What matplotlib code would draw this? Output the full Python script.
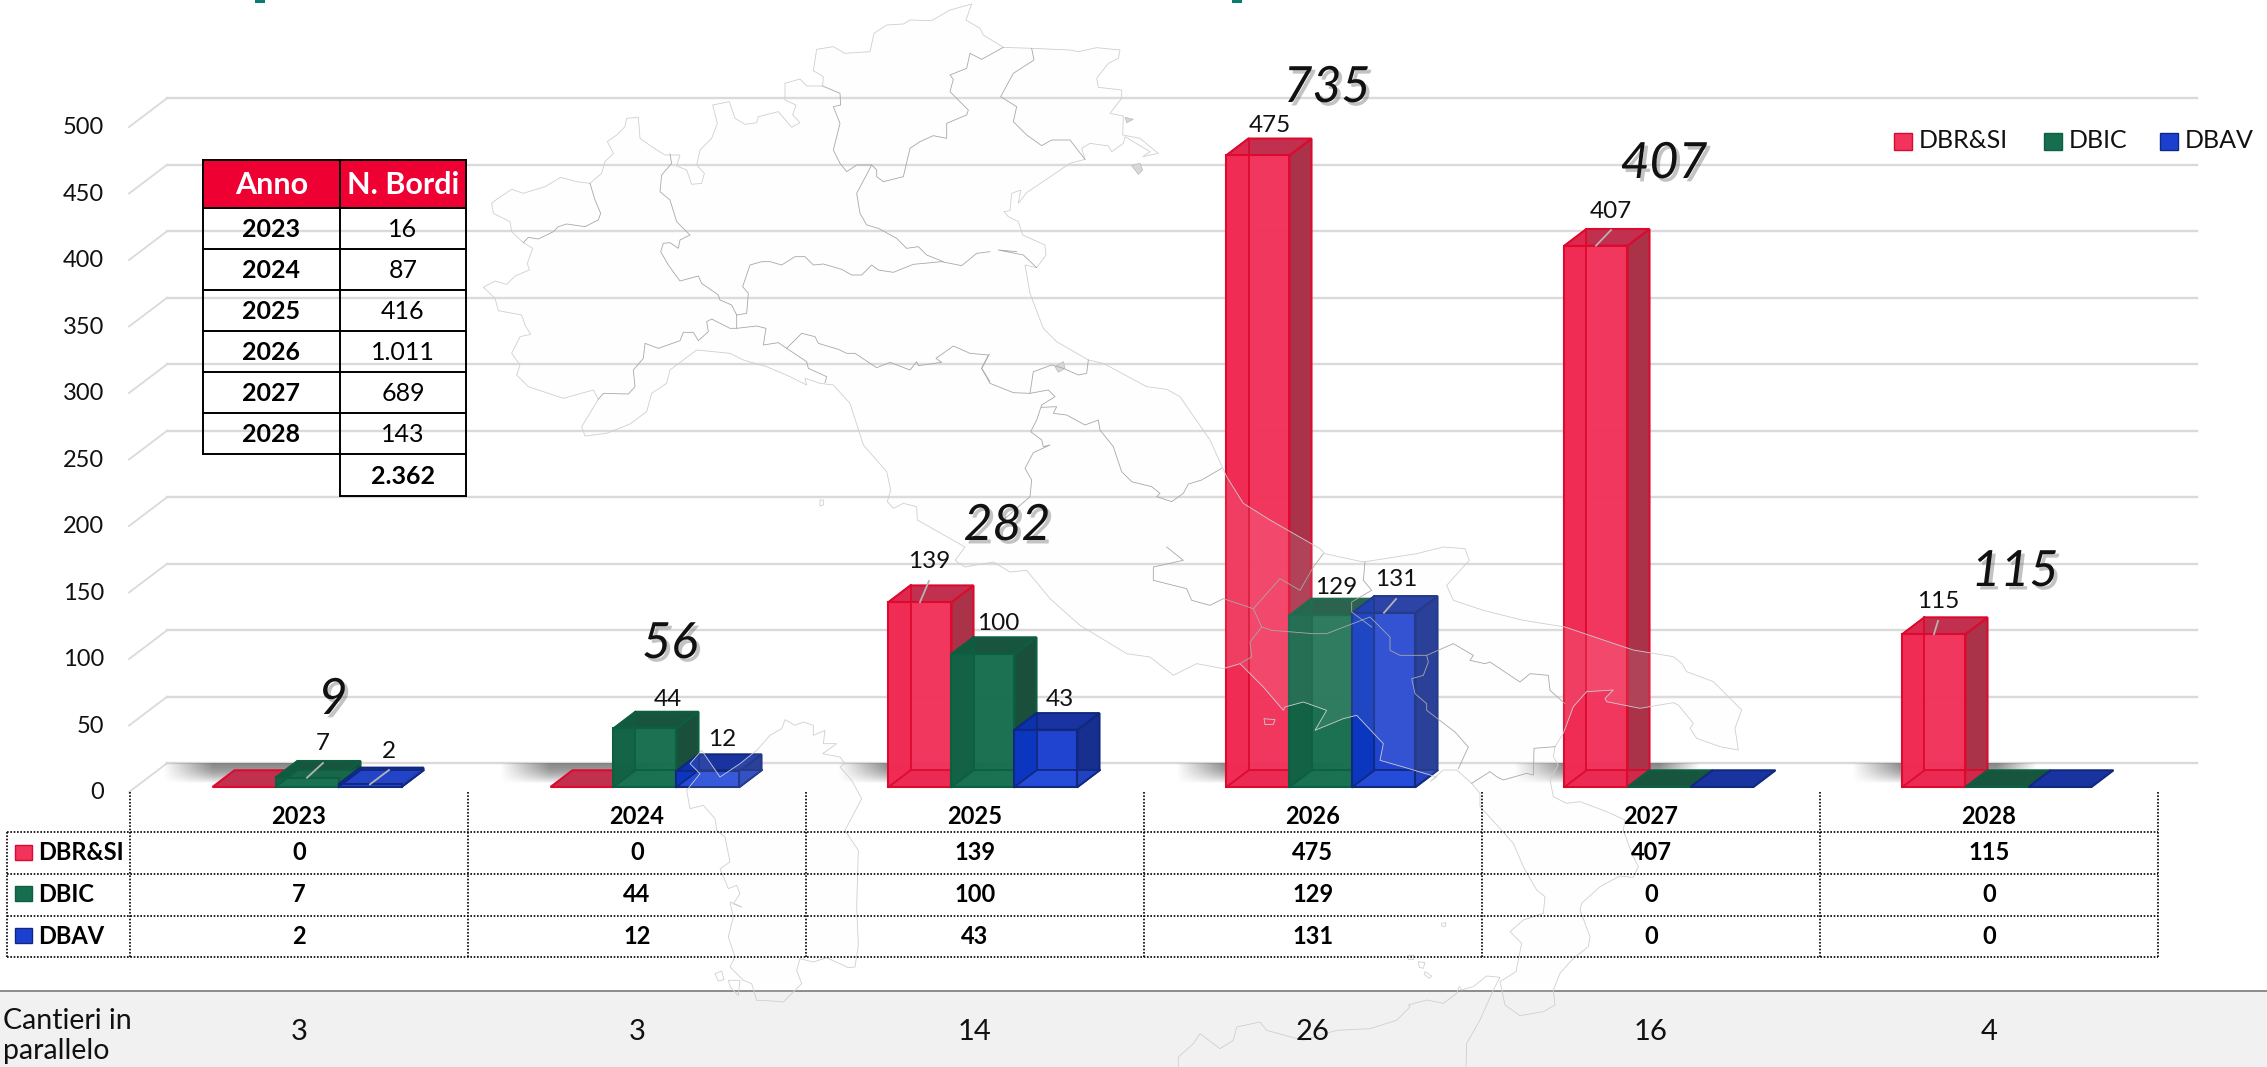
"""
Cantieri per anno: finto 3D a barre con tabella dati e sagoma dell'Italia sullo sfondo.
"""

import numpy as np
from matplotlib import pyplot as plt
from matplotlib import patheffects
from matplotlib.patches import Polygon, Rectangle

plt.rcParams['font.family'] = ['Lato', 'DejaVu Sans']

WIDTH, HEIGHT = 2267, 1067

# chart values
years = ['2023', '2024', '2025', '2026', '2027', '2028']
seriesNames = ['DBR&SI', 'DBIC', 'DBAV']
dbrsi = [0, 0, 139, 475, 407, 115]
dbic = [7, 44, 100, 129, 0, 0]
dbav = [2, 12, 43, 131, 0, 0]
totals = [9, 56, 282, 735, 407, 115]
cantieri = [3, 3, 14, 26, 16, 4]
yTicks = [0, 50, 100, 150, 200, 250, 300, 350, 400, 450, 500]

# small table on the left
tableYears = ['2023', '2024', '2025', '2026', '2027', '2028']
tableBordi = ['16', '87', '416', '1.011', '689', '143']
tableTotal = '2.362'

# bar styling, one entry per series
faceColors = ['#F2335C', '#176E4F', '#1B40CF']
edgeColors = ['#DC0A2E', '#0C5F40', '#10297F']
sideColors = ['#AA3249', '#1A4F3C', '#172F8F']
topColors = ['#C2304F', '#18553F', '#1933A0']
wallColors = ['#F0254F', '#0F5C3F', '#0230B8']
floorColors = ['#E8234E', '#1A7452', '#2A50E0']

# where the labels sit in the picture (x, y in pixels), per series and year
labelPositions = {
    (1, 0): (323, 744), (2, 0): (389, 751),
    (1, 1): (668, 700), (2, 1): (722, 740),
    (0, 2): (929, 562), (1, 2): (998, 623), (2, 2): (1060, 699),
    (0, 3): (1270, 125), (1, 3): (1336, 587), (2, 3): (1396, 580),
    (0, 4): (1611, 211),
    (0, 5): (1938, 602),
}
leaderKeys = [(1, 0), (2, 0), (0, 2), (2, 3), (0, 4), (0, 5)]
totalPositions = [(333, 700), (670, 644), (1007, 526), (1327, 88), (1664, 164), (2015, 572)]


def crop(x0, y0, points):
    """
    Map outlines were traced on 3x crops of the picture, bring them back to pixels
    """
    return [(x0 + px / 3.0, y0 + py / 3.0) for px, py in points]


# Italy outline, walking clockwise from Valle d'Aosta
northBorder = crop(470, 0, [
    (65, 610), (80, 598), (125, 568), (160, 580), (225, 560), (272, 532), (320, 545), (360, 550), (395, 520),
    (405, 485), (430, 460), (412, 425), (440, 405), (465, 380), (470, 355), (505, 352), (510, 415), (545, 440),
    (585, 465), (630, 465), (620, 498), (650, 510), (665, 553), (695, 550), (703, 520), (680, 495), (690, 450),
    (725, 415), (742, 370), (728, 315), (778, 305), (795, 355), (825, 373), (860, 368), (865, 350), (925, 335),
    (965, 382), (990, 368), (968, 345), (978, 315), (945, 300), (945, 250), (990, 237), (1010, 258), (1058, 258),
    (1060, 230), (1030, 212), (1040, 148), (1090, 140), (1125, 160), (1200, 155), (1212, 100), (1250, 75),
    (1300, 72), (1320, 60), (1385, 62), (1440, 30), (1505, 12)])
adriatic = crop(750, 0, [
    (648, 60), (690, 85), (700, 105), (760, 142), (845, 145), (960, 150), (985, 155), (1040, 143), (1110, 150),
    (1105, 175), (1075, 190), (1040, 235), (1045, 262), (1115, 270), (1115, 295), (1080, 340), (1120, 348),
    (1118, 405), (1170, 415), (1225, 460), (1178, 470), (1200, 455), (1125, 410), (1120, 430), (1085, 455),
    (1075, 438), (1020, 430), (995, 445), (1005, 478), (960, 490), (830, 578), (805, 610), (812, 570), (785, 580),
    (780, 632), (762, 635), (775, 650), (805, 665), (818, 705), (885, 735), (888, 765), (860, 803), (825, 795),
    (840, 880), (880, 985), (920, 1025), (1015, 1080), (1060, 1090), (1190, 1160), (1250, 1168), (1290, 1190),
    (1380, 1320), (1430, 1430), (1480, 1510), (1560, 1560)])
gargano = crop(1050, 547, [
    (810, 5), (825, 20), (940, 45), (1100, 20), (1180, 0), (1245, 5), (1258, 40), (1190, 115), (1210, 160),
    (1300, 190), (1420, 220), (1545, 240)])
southCoast = crop(1380, 640, [
    (670, 0), (760, 30), (880, 50), (905, 70), (920, 95), (1000, 125), (1085, 210), (1065, 265), (1075, 330),
    (1020, 320), (950, 295), (930, 265), (940, 250), (895, 195), (880, 188), (780, 205), (680, 185), (675, 175),
    (700, 150), (620, 155), (580, 200), (550, 280), (525, 320), (520, 350), (535, 375), (510, 420), (520, 470),
    (560, 490), (600, 485), (680, 515), (735, 540), (730, 570), (755, 640), (775, 680), (760, 712), (720, 708),
    (660, 740), (605, 790), (600, 810), (630, 890), (625, 920), (580, 955), (540, 1000), (520, 1050), (525, 1095),
    (490, 1115), (420, 1127), (375, 1095), (360, 1025), (408, 995), (425, 910), (390, 875), (430, 840), (490, 820),
    (495, 770), (470, 750), (430, 680), (400, 610), (355, 560), (300, 500), (300, 460), (275, 430), (230, 390),
    (190, 390), (150, 425)])
tyrrhenian = crop(1050, 547, [
    (1160, 690), (1060, 660), (990, 640), (1000, 590), (920, 505), (880, 515), (795, 550), (830, 490), (760, 465),
    (705, 480), (700, 490), (640, 420), (570, 350), (520, 365), (440, 350), (370, 385), (300, 330), (230, 320),
    (90, 235), (0, 155)])
tuscany = crop(600, 547, [
    (1280, 70), (1230, 75), (1180, 45), (1095, 60), (1065, 40), (1095, 0)])
westCoast = crop(470, 0, [
    (1342, 1560), (1340, 1520), (1300, 1510), (1270, 1525), (1252, 1505), (1262, 1470), (1250, 1415), (1180, 1335),
    (1140, 1210), (1090, 1155), (1050, 1150), (1005, 1135), (1010, 1155), (960, 1130), (890, 1100), (820, 1080),
    (780, 1060), (680, 1050), (600, 1110), (590, 1150), (545, 1180), (530, 1235), (480, 1272), (410, 1300),
    (345, 1308), (335, 1280), (385, 1198), (370, 1170), (280, 1195), (175, 1160), (140, 1125), (150, 1095),
    (125, 1060), (150, 1010), (182, 1003), (165, 975), (155, 945), (85, 932), (75, 895), (40, 862), (75, 843),
    (110, 853), (135, 828), (178, 810), (172, 790), (188, 745), (160, 728), (125, 695), (120, 665), (70, 640)])
mainland = northBorder + adriatic + gargano + southCoast + tyrrhenian + tuscany + westCoast

sardinia = crop(600, 547, [
    (470, 610), (510, 565), (545, 545), (555, 518), (585, 535), (610, 525), (640, 535), (640, 565), (675, 550),
    (670, 590), (710, 590), (668, 620), (720, 630), (735, 650), (720, 660), (755, 700), (785, 755), (735, 850),
    (775, 910), (770, 1080), (775, 1195), (765, 1260), (745, 1262), (680, 1232), (640, 1245), (600, 1235),
    (590, 1270), (605, 1310), (550, 1365), (490, 1360), (470, 1360), (455, 1310), (430, 1300), (390, 1260),
    (405, 1230), (385, 1170), (400, 1110), (390, 1065), (425, 1080), (400, 1070), (420, 1040), (410, 1015),
    (385, 1025), (360, 965), (390, 945), (375, 870), (350, 850), (345, 815), (310, 775), (270, 785), (260, 730),
    (300, 680), (270, 650), (305, 610), (360, 690), (420, 650)])
sicily = crop(1050, 547, [
    (385, 1560), (385, 1530), (430, 1490), (450, 1460), (510, 1505), (550, 1480), (560, 1440), (630, 1425),
    (650, 1450), (760, 1480), (860, 1450), (960, 1445), (1040, 1420), (1080, 1380)]) + crop(1380, 640, [
    (85, 1095), (140, 1080), (190, 1090), (230, 1060), (238, 1040), (245, 1050), (280, 1040), (320, 1008),
    (360, 1012), (340, 1050), (300, 1140), (260, 1210), (258, 1281)])

islands = [
    crop(600, 547, [(345, 1280), (365, 1272), (372, 1298), (355, 1302)]),
    crop(600, 547, [(385, 1300), (420, 1300), (415, 1345), (392, 1322)]),
    crop(470, 0, [(1050, 1500), (1060, 1500), (1060, 1515), (1050, 1518)]),
    crop(1050, 547, [(642, 515), (675, 518), (670, 532), (645, 533)]),
    crop(1380, 640, [(185, 850), (198, 848), (195, 860), (185, 858)]),
    crop(1380, 640, [(115, 965), (135, 968), (130, 985), (118, 982)]),
    crop(1380, 640, [(135, 995), (155, 1008), (148, 1015), (133, 1003)]),
    crop(1380, 640, [(82, 948), (100, 945), (100, 958), (85, 958)]),
]
greyPatches = [
    crop(750, 0, [(1125, 352), (1150, 358), (1130, 368)]),
    crop(750, 0, [(1145, 497), (1170, 490), (1178, 510), (1165, 523)]),
    crop(750, 0, [(915, 1100), (940, 1085), (945, 1105), (925, 1117)]),
]

# regional borders
regionBorders = [
    crop(470, 0, [(360, 550), (375, 600), (392, 640), (385, 660), (345, 680), (290, 672), (265, 680), (250, 695),
                  (205, 717), (175, 712), (160, 728)]),
    crop(470, 0, [(600, 462), (605, 490), (575, 525), (570, 575), (600, 600), (620, 665), (660, 705), (630, 720),
                  (625, 745), (600, 728), (580, 730), (572, 755), (595, 795), (630, 843), (685, 828), (695, 850),
                  (745, 885), (750, 900), (785, 915), (800, 945), (800, 985)]),
    crop(470, 0, [(800, 945), (830, 940), (835, 880), (818, 860), (840, 795), (875, 785), (900, 785), (935, 795),
                  (975, 770), (1005, 770), (1030, 795), (1060, 792), (1115, 808), (1145, 825), (1175, 825),
                  (1205, 795), (1225, 810), (1270, 817), (1330, 793), (1415, 785), (1475, 797), (1520, 760),
                  (1560, 755)]),
    crop(750, 0, [(800, 755), (745, 750), (820, 765), (860, 803)]),
    crop(470, 0, [(385, 1198), (400, 1180), (475, 1182), (495, 1160), (490, 1110), (520, 1075), (525, 1030),
                  (565, 1045), (630, 1022), (640, 997), (670, 997), (685, 1022), (715, 995), (710, 965), (725, 957),
                  (780, 985), (800, 985), (860, 978), (888, 985), (880, 1035), (925, 1028), (950, 1045), (1010, 1085),
                  (1015, 1105), (1070, 1130), (1065, 1148)]),
    crop(470, 0, [(950, 1045), (995, 1000), (1035, 1010), (1045, 1030), (1105, 1048), (1130, 1060), (1155, 1060),
                  (1220, 1103), (1260, 1087), (1320, 1110), (1340, 1085), (1345, 1097), (1415, 1087), (1398, 1075),
                  (1450, 1038), (1500, 1060), (1555, 1065), (1535, 1105), (1560, 1145)]),
    crop(750, 0, [(718, 1063), (695, 1105), (720, 1150), (790, 1178), (840, 1180), (895, 1170), (915, 1190),
                  (875, 1215), (860, 1260), (842, 1295), (875, 1320), (880, 1340), (900, 1335), (850, 1358),
                  (825, 1405), (845, 1440), (840, 1490), (800, 1525), (760, 1560)]),
    crop(750, 0, [(1015, 1080), (1010, 1120), (985, 1125), (940, 1105), (905, 1095), (850, 1115), (840, 1180)]),
    crop(750, 0, [(875, 1222), (920, 1220), (910, 1240), (950, 1245), (1005, 1275), (1045, 1260), (1050, 1290),
                  (1090, 1340), (1115, 1415), (1145, 1445), (1205, 1460), (1230, 1480), (1220, 1490), (1265, 1505),
                  (1300, 1480), (1315, 1452), (1355, 1440), (1415, 1405)]),
    crop(750, 0, [(218, 258), (270, 280), (272, 315), (250, 320), (270, 370), (250, 450), (270, 490), (290, 515),
                  (320, 495), (365, 495), (380, 510), (380, 530), (400, 545), (460, 530), (480, 445), (510, 425),
                  (550, 407), (590, 415), (590, 370), (650, 345), (655, 330), (600, 275), (610, 238), (600, 225),
                  (650, 205), (660, 160), (695, 178), (760, 142)]),
    crop(750, 0, [(365, 495), (320, 580), (330, 640), (350, 675), (385, 685), (440, 715), (470, 745), (505, 740),
                  (530, 765), (580, 785)]),
    crop(750, 0, [(845, 145), (852, 180), (790, 220), (752, 290), (800, 320), (790, 365), (830, 405), (875, 437),
                  (905, 420), (960, 420), (1005, 478)]),
    crop(1050, 547, [(350, 0), (400, 40), (310, 60), (310, 100), (410, 125), (425, 160), (480, 175), (520, 155),
                     (610, 185), (690, 95), (750, 130), (790, 60), (820, 20)]),
    crop(1050, 547, [(610, 185), (635, 240), (600, 285), (605, 330), (570, 350)]),
    crop(1050, 547, [(635, 240), (665, 250), (790, 260), (830, 260), (960, 210), (1020, 270), (1020, 310), (1050, 325),
                     (1130, 325), (1210, 290), (1270, 325), (1260, 340), (1305, 350), (1320, 345), (1410, 405),
                     (1440, 380), (1495, 385), (1500, 430), (1545, 470)]),
    crop(1050, 547, [(945, 45), (940, 100), (965, 130), (905, 165), (905, 195), (965, 240)]),
    crop(1050, 547, [(1130, 325), (1135, 345), (1120, 385), (1085, 395), (1095, 440), (1130, 470), (1130, 490),
                     (1215, 555), (1255, 600), (1225, 665)]),
    crop(1380, 640, [(275, 430), (330, 395), (350, 410), (370, 420), (440, 400), (460, 405), (462, 325), (525, 320)]),
]


def xData(px):
    return (px - 130) / 338.0


def yData(py):
    return (787 - py) / 1.33


BAR_OFFSET = 82.5 / 338.0
BAR_WIDTH = 63.0 / 338.0
DEPTH_X = 22.0 / 338.0
DEPTH_Y = 16.7 / 1.33


def drawBar(ax, left, value, idx):
    """
    One fake 3D bar: the front comes from ax.bar, the other faces from polygons on the same axes
    """
    right = left + BAR_WIDTH
    edge = edgeColors[idx]
    if value > 0:
        ax.add_patch(Polygon([(right, 0), (right + DEPTH_X, DEPTH_Y), (right + DEPTH_X, value + DEPTH_Y), (right, value)],
                             facecolor=sideColors[idx], edgecolor=edge, lw=1.5, zorder=5))
    ax.add_patch(Polygon([(left, value), (right, value), (right + DEPTH_X, value + DEPTH_Y), (left + DEPTH_X, value + DEPTH_Y)],
                         facecolor=topColors[idx], edgecolor=edge, lw=1.5, zorder=5))
    if value > 0:
        ax.bar(left, value, BAR_WIDTH, align='edge', color=faceColors[idx], alpha=0.98, zorder=5)
        ax.add_patch(Polygon([(left, 0), (left + DEPTH_X, DEPTH_Y), (left + DEPTH_X, value + DEPTH_Y), (left, value)],
                             facecolor=wallColors[idx], alpha=0.6, lw=0, zorder=5))
        ax.add_patch(Polygon([(left, 0), (right, 0), (right + DEPTH_X, DEPTH_Y), (left + DEPTH_X, DEPTH_Y)],
                             facecolor=floorColors[idx], alpha=0.6, lw=0, zorder=5))
        ax.bar(left, value, BAR_WIDTH, align='edge', fill=False, edgecolor=edge, linewidth=1.5, zorder=5)
        ax.plot([left + DEPTH_X, left + DEPTH_X], [DEPTH_Y, value + DEPTH_Y], color=edge, lw=1.3, zorder=5)
        ax.plot([left + DEPTH_X, right + DEPTH_X], [DEPTH_Y, DEPTH_Y], color=edge, lw=1.3, zorder=5)
        ax.plot([left, left + DEPTH_X], [0, DEPTH_Y], color=edge, lw=1.3, zorder=5)
        ax.plot([right, right + DEPTH_X], [0, DEPTH_Y], color=edge, lw=1.3, zorder=5)
        ax.plot([left, left + DEPTH_X], [value, value + DEPTH_Y], color=edge, lw=1.3, zorder=5)


def drawShadow(ax, left):
    """
    Soft dark smudge on the chart floor behind each group of bars
    """
    xRamp = np.clip(np.linspace(0, 185, 185) / 50.0, 0, 1) * np.clip((185 - np.linspace(0, 185, 185)) / 40.0, 0, 1)
    yRamp = 1 - np.linspace(0, 1, 20) ** 1.8
    rgba = np.zeros((20, 185, 4))
    rgba[..., :3] = 0.35
    rgba[..., 3] = 0.7 * np.outer(yRamp, xRamp)
    ax.imshow(rgba, extent=(left - 50 / 338.0, left + 135 / 338.0, yData(784), yData(763)),
              aspect='auto', zorder=3, interpolation='bilinear')


def drawMap(ax):
    fill = (0.96, 0.96, 0.96, 0.09)
    outline = '#cfcfcf'
    ax.add_patch(Polygon(mainland, facecolor=fill, edgecolor=outline, lw=0.6))
    ax.add_patch(Polygon(sardinia, facecolor=fill, edgecolor=outline, lw=0.6))
    for island in islands:
        ax.add_patch(Polygon(island, facecolor='none', edgecolor=outline, lw=0.6))
    for patch in greyPatches:
        ax.add_patch(Polygon(patch, facecolor='#d8d8d8', edgecolor='#b8b8b8', lw=0.5))
    xs, ys = zip(*sicily)
    ax.plot(xs, ys, color=outline, lw=0.6)
    for border in regionBorders:
        xs, ys = zip(*border)
        ax.plot(xs, ys, color='#a8a8a8', lw=0.6)


def drawDottedTable(ax):
    seps = [xData(x) for x in (130, 468, 806, 1144, 1482, 1820, 2158)]
    dotted = (0, (1, 1))
    for py in (832, 874, 916, 957):
        ax.plot([xData(7), seps[-1]], [yData(py)] * 2, color='black', lw=1.2, ls=dotted)
    for sep in seps:
        ax.plot([sep, sep], [yData(792), yData(957)], color='black', lw=1.2, ls=dotted)
    ax.plot([xData(7), xData(7)], [yData(832), yData(957)], color='black', lw=1.2, ls=dotted)
    for i, year in enumerate(years):
        ax.text(i + 0.5, yData(817), year, ha='center', va='center', fontsize=17, fontweight='bold')
    rows = [dbrsi, dbic, dbav]
    for r, (name, py) in enumerate(zip(seriesNames, (853, 894, 936))):
        ax.add_patch(Rectangle((xData(15), yData(py + 7)), 17 / 338.0, 15 / 1.33, facecolor=faceColors[r],
                               edgecolor=edgeColors[r], lw=1.0))
        ax.text(xData(38), yData(py), name, ha='left', va='center', fontsize=17, fontweight='bold')
        for i, value in enumerate(rows[r]):
            ax.text(i + 0.5, yData(py), str(value), ha='center', va='center', fontsize=17, fontweight='bold')


def drawBordiTable(ax):
    left, mid, right = xData(202.5), xData(340), xData(466)
    rowEdges = [160, 208, 248.7, 290, 331, 372, 413, 454, 496]
    ax.add_patch(Rectangle((left, yData(208)), right - left, yData(160) - yData(208), facecolor='#EE0033', lw=0))
    for py in rowEdges[:-1]:
        ax.plot([left, right], [yData(py)] * 2, color='black', lw=1.4)
    ax.plot([mid, right], [yData(496)] * 2, color='black', lw=1.4)
    ax.plot([left, left], [yData(160), yData(454)], color='black', lw=1.4)
    ax.plot([mid, mid], [yData(160), yData(496)], color='black', lw=1.4)
    ax.plot([right, right], [yData(160), yData(496)], color='black', lw=1.4)
    xLeft, xRight = (left + mid) / 2, (mid + right) / 2
    ax.text(xLeft, yData(185), 'Anno', color='white', ha='center', va='center', fontsize=22, fontweight='bold')
    ax.text(xRight, yData(185), 'N. Bordi', color='white', ha='center', va='center', fontsize=22, fontweight='bold')
    for i, (year, bordi) in enumerate(zip(tableYears, tableBordi)):
        py = (rowEdges[i + 1] + rowEdges[i + 2]) / 2 + 1
        ax.text(xLeft, yData(py), year, ha='center', va='center', fontsize=18, fontweight='bold')
        ax.text(xRight, yData(py), bordi, ha='center', va='center', fontsize=18)
    ax.text(xRight, yData(476), tableTotal, ha='center', va='center', fontsize=18, fontweight='bold')


def newLayer(fig, xlim, ylim):
    ax = fig.add_axes([0, 0, 1, 1])
    ax.set_xlim(xlim)
    ax.set_ylim(ylim)
    ax.axis('off')
    return ax


if __name__ == '__main__':
    fig = plt.figure(figsize=(WIDTH / 100.0, HEIGHT / 100.0), dpi=100, facecolor='white')
    xlim = (xData(0), xData(WIDTH))
    ylim = (yData(HEIGHT), yData(0))

    # chart layer: band, grid, shadows and bars
    chart = newLayer(fig, xlim, ylim)
    chart.add_patch(Rectangle((xlim[0], ylim[0]), xlim[1] - xlim[0], yData(991) - ylim[0], facecolor='#F1F1F1', lw=0))
    chart.plot(xlim, [yData(991)] * 2, color='#8c8c8c', lw=1.4)

    frontDrop = (792 - 787) / 1.33
    backRise = (787 - 763.3) / 1.33
    for tick in yTicks:
        chart.plot([xData(167), xData(2197)], [tick + backRise] * 2, color='#DADADA', lw=1.7, zorder=2)
        chart.plot([xData(129), xData(167)], [tick - frontDrop, tick + backRise], color='#DADADA', lw=1.3, zorder=2)

    series = [dbrsi, dbic, dbav]
    for i in range(len(years)):
        drawShadow(chart, i + BAR_OFFSET)
        for s, values in enumerate(series):
            drawBar(chart, i + BAR_OFFSET + s * BAR_WIDTH, values[i], s)
    chart.set_xlim(xlim)
    chart.set_ylim(ylim)

    # the map sits over the bars and lightens them a little
    mapLayer = newLayer(fig, (0, WIDTH), (HEIGHT, 0))
    drawMap(mapLayer)

    # everything readable goes on top
    top = newLayer(fig, xlim, ylim)
    for tick in yTicks:
        top.text(xData(104), tick - frontDrop - 0.75, str(tick), ha='right', va='center', fontsize=17, color='#111111')

    for (s, i), (px, py) in labelPositions.items():
        value = series[s][i]
        top.text(xData(px), yData(py), str(value), ha='center', va='center', fontsize=17.5, color='#111111')
    for s, i in leaderKeys:
        px, py = labelPositions[(s, i)]
        barCentre = i + BAR_OFFSET + (s + 0.5) * BAR_WIDTH
        top.plot([barCentre, xData(px)], [series[s][i], yData(py + 19)], color='#B4B4B4', lw=1.3)

    shadow = [patheffects.withSimplePatchShadow(offset=(2.5, -2.5), shadow_rgbFace='#555555', alpha=0.35)]
    for value, (px, py) in zip(totals, totalPositions):
        top.text(xData(px), yData(py), str(value), ha='center', va='center', fontsize=36, fontstyle='italic',
                 color='#111111', path_effects=shadow)

    drawDottedTable(top)
    drawBordiTable(top)

    # legend top right
    for name, sx, s in zip(seriesNames, (1894, 2044, 2160), range(3)):
        top.add_patch(Rectangle((xData(sx), yData(150)), 18 / 338.0, 17 / 1.33, facecolor=faceColors[s],
                                edgecolor=edgeColors[s], lw=1.0))
        top.text(xData(sx + 25), yData(141), name, ha='left', va='center', fontsize=18, color='#111111')

    # bottom band
    top.text(xData(3), yData(1021), 'Cantieri in', ha='left', va='center', fontsize=20.5, color='#111111')
    top.text(xData(3), yData(1051), 'parallelo', ha='left', va='center', fontsize=20.5, color='#111111')
    for i, value in enumerate(cantieri):
        top.text(i + 0.5, yData(1032), str(value), ha='center', va='center', fontsize=21, color='#111111')

    # bits of the cropped title at the top edge
    for px in (255, 1232):
        top.add_patch(Rectangle((xData(px), yData(3)), 10 / 338.0, 3 / 1.33, facecolor='#0B7A75', lw=0))

    fig.savefig('out.png', dpi=100)
